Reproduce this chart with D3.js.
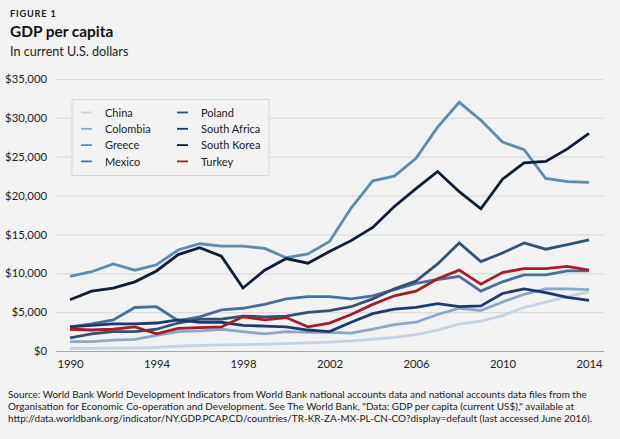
<!DOCTYPE html>
<html><head><meta charset="utf-8">
<script src="https://cdn.jsdelivr.net/npm/d3@7"></script>
<style>
html,body{margin:0;padding:0;background:#f2f2f2;}
svg{display:block;font-family:"Lato","Open Sans",sans-serif;}
</style></head>
<body>
<svg id="chart" width="620" height="439"></svg>
<script>
const years = d3.range(1990, 2015);
const china = [320,330,370,380,470,610,710,780,830,870,960,1050,1150,1290,1510,1750,2100,2700,3470,3840,4560,5600,6300,7000,7600];
const colombia = [1200,1200,1400,1500,2000,2500,2600,2800,2500,2200,2500,2400,2400,2300,2800,3400,3700,4700,5500,5200,6300,7300,8000,8000,7900];
const greece = [9600,10200,11200,10400,11100,13000,13800,13500,13500,13200,12000,12500,14100,18400,21900,22500,24800,28800,32000,29700,26900,25900,22200,21800,21700];
const mexico = [3100,3500,4000,5600,5700,3900,4400,5300,5500,6000,6700,7000,7000,6700,7100,7900,8700,9200,9600,7700,8900,9800,9800,10300,10300];
const poland = [1700,2200,2500,2500,2800,3600,4100,4100,4500,4400,4500,4980,5200,5700,6700,8000,9000,11200,13900,11500,12600,13900,13100,13700,14300];
const southAfrica = [3100,3300,3500,3500,3600,4000,3700,3700,3300,3200,3100,2700,2500,3700,4800,5400,5600,6100,5700,5800,7400,8000,7500,6900,6500];
const southKorea = [6600,7700,8100,8900,10300,12400,13300,12200,8100,10400,11900,11300,12800,14200,15900,18600,20900,23100,20500,18300,22100,24200,24400,26000,28000];
const turkey = [2800,2700,2800,3100,2200,2900,3000,3100,4400,4000,4300,3100,3600,4700,6000,7100,7700,9300,10400,8600,10100,10600,10600,10900,10400];

const seriesNames = ["China","Colombia","Greece","Mexico","Poland","South Africa","South Korea","Turkey"];
const seriesValues = [china,colombia,greece,mexico,poland,southAfrica,southKorea,turkey];
const colors = ["#c3d3e3","#8ba8c4","#5f8cab","#4a7099","#2f5370","#1e3a6c","#0d1e36","#a31d2a"];
const yTicks = [0,5000,10000,15000,20000,25000,30000,35000];
const xTicks = [1990,1994,1998,2002,2006,2010,2014];

const svg = d3.select("#chart");
const x = d3.scaleLinear().domain([1990,2014]).range([70,589]);
const y = d3.scaleLinear().domain([0,35000]).range([351,79]);

// titles
svg.append("text").attr("x",10).attr("y",17).attr("font-size",9.2).attr("font-weight",700)
  .attr("letter-spacing",0.8).attr("fill","#222").text("FIGURE 1");
svg.append("text").attr("x",10).attr("y",37).attr("font-size",15.4).attr("font-weight",700)
  .attr("fill","#111").text("GDP per capita");
svg.append("text").attr("x",10).attr("y",56).attr("font-size",12.6)
  .attr("fill","#222").text("In current U.S. dollars");

// gridlines
const yAxis = d3.axisLeft(y).tickValues(yTicks).tickSize(-548).tickPadding(9)
  .tickFormat(d => "$" + d3.format(",")(d));
const gy = svg.append("g").attr("transform","translate(56,0)").call(yAxis);
gy.select(".domain").remove();
gy.selectAll(".tick line").attr("stroke","#dcdcdc").attr("stroke-width",1.2);
gy.selectAll(".tick text").attr("font-size",11.3).attr("fill","#222")
  .attr("font-family","Lato, 'Open Sans', sans-serif");
gy.selectAll(".tick").filter(d => d===0).select("line").attr("stroke","#a8a8a8");

const xAxis = d3.axisBottom(x).tickValues(xTicks).tickSize(0).tickPadding(8).tickFormat(d3.format("d"));
const gx = svg.append("g").attr("transform","translate(0,352)").call(xAxis);
gx.select(".domain").remove();
gx.selectAll(".tick text").attr("font-size",11.3).attr("fill","#222")
  .attr("font-family","Lato, 'Open Sans', sans-serif");

// legend
const lg = svg.append("g");
lg.append("rect").attr("x",72).attr("y",99.5).attr("width",197).attr("height",76)
  .attr("fill","#f2f2f2").attr("stroke","#d6d6d6").attr("stroke-width",1);

// lines
const line = d3.line().x((d,i) => x(years[i])).y(d => y(d));
seriesValues.forEach((vals,i) => {
  svg.append("path").datum(vals).attr("d",line).attr("fill","none")
    .attr("stroke",colors[i]).attr("stroke-width",2.8)
    .attr("stroke-linejoin","miter").attr("stroke-linecap","butt");
});

seriesNames.forEach((name,i) => {
  const col = Math.floor(i/4), row = i%4;
  const sx = col===0 ? 81 : 177;
  const yy = 112.5 + row*16.3;
  lg.append("line").attr("x1",sx).attr("x2",sx+11).attr("y1",yy).attr("y2",yy)
    .attr("stroke",colors[i]).attr("stroke-width",1.8);
  lg.append("text").attr("x",sx+24).attr("y",yy+4.2).attr("font-size",11).attr("fill","#222").text(name);
});

// source
const src = [
  "Source: World Bank World Development Indicators from World Bank national accounts data and national accounts data files from the",
  "Organisation for Economic Co-operation and Development. See The World Bank, \"Data: GDP per capita (current US$),\" available at",
  "http://data.worldbank.org/indicator/NY.GDP.PCAP.CD/countries/TR-KR-ZA-MX-PL-CN-CO?display=default (last accessed June 2016)."
];
src.forEach((t,i) => {
  svg.append("text").attr("x",8).attr("y",398 + i*12.2).attr("font-size",9.95).attr("fill","#222").text(t);
});
</script>
</body></html>
